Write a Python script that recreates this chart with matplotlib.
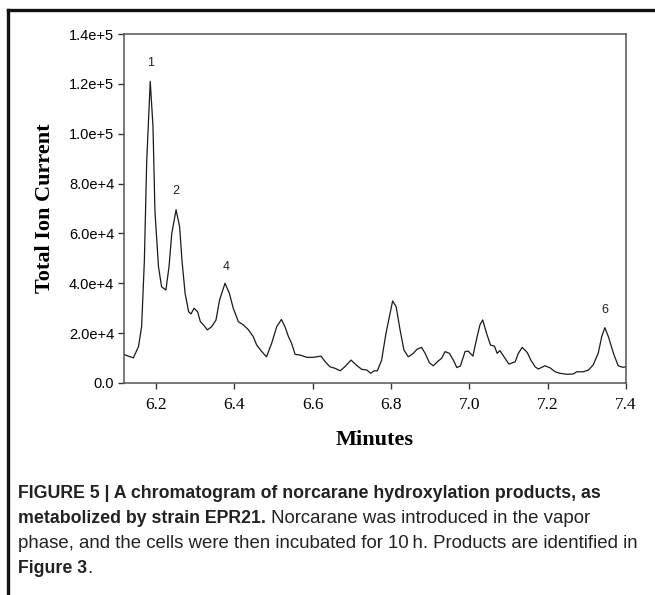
import matplotlib
matplotlib.use("Agg")
import matplotlib.pyplot as plt
from matplotlib.lines import Line2D

# ---- data ----
minutes = [6.118, 6.125, 6.142, 6.155, 6.163, 6.170, 6.176, 6.185, 6.192, 6.197,
           6.206, 6.214, 6.225, 6.233, 6.240, 6.251, 6.260, 6.266, 6.274, 6.283,
           6.289, 6.297, 6.306, 6.313, 6.321, 6.331, 6.342, 6.353, 6.362, 6.376,
           6.387, 6.397, 6.410, 6.423, 6.436, 6.448, 6.457, 6.470, 6.482, 6.495,
           6.508, 6.520, 6.529, 6.538, 6.546, 6.555, 6.568, 6.585, 6.602, 6.621,
           6.632, 6.644, 6.657, 6.670, 6.682, 6.698, 6.711, 6.725, 6.738, 6.748,
           6.757, 6.765, 6.776, 6.787, 6.804, 6.813, 6.823, 6.833, 6.844, 6.857,
           6.866, 6.878, 6.887, 6.898, 6.908, 6.918, 6.929, 6.938, 6.949, 6.959,
           6.968, 6.977, 6.989, 6.997, 7.009, 7.019, 7.027, 7.034, 7.044, 7.054,
           7.064, 7.071, 7.078, 7.091, 7.101, 7.117, 7.125, 7.135, 7.148, 7.157,
           7.168, 7.176, 7.193, 7.206, 7.219, 7.231, 7.249, 7.265, 7.274, 7.291,
           7.304, 7.316, 7.329, 7.338, 7.346, 7.355, 7.368, 7.380, 7.392, 7.400]
tic_k = [11.5, 11.0, 10.1, 14.6, 22.6, 49.0, 89.0, 121.0, 103.0, 69.0,
         46.7, 38.6, 37.3, 46.7, 60.0, 69.5, 62.7, 49.3, 36.0, 28.6,
         27.7, 30.0, 28.6, 24.6, 23.3, 21.3, 22.6, 25.3, 33.3, 40.0,
         36.0, 30.0, 24.6, 23.3, 21.3, 18.6, 15.2, 12.6, 10.5, 15.9,
         22.6, 25.5, 22.6, 18.6, 15.9, 11.5, 11.2, 10.3, 10.3, 10.8,
         8.5, 6.5, 5.9, 4.9, 6.5, 9.2, 7.2, 5.5, 5.2, 3.9,
         4.9, 4.9, 9.2, 19.9, 32.9, 30.6, 21.3, 13.2, 10.5, 11.9,
         13.5, 14.3, 11.9, 8.1, 6.9, 8.5, 9.9, 12.6, 11.9, 9.2,
         6.2, 6.8, 12.6, 12.8, 10.8, 18.0, 23.3, 25.3, 19.9, 15.2,
         14.8, 11.9, 13.0, 9.9, 7.6, 8.5, 11.9, 14.3, 12.2, 9.2,
         6.5, 5.6, 6.9, 6.1, 4.5, 3.9, 3.5, 3.6, 4.5, 4.5,
         5.2, 7.2, 11.9, 18.6, 22.2, 18.6, 11.9, 6.9, 6.3, 6.5]
total_ion_current = [v * 1000 for v in tic_k]

peak_labels = ["1", "2", "4", "6"]
peak_label_x = [6.186, 6.251, 6.378, 7.346]
peak_label_y = [126000, 74500, 44000, 27000]

x_ticks = [6.2, 6.4, 6.6, 6.8, 7.0, 7.2, 7.4]
x_tick_labels = ["6.2", "6.4", "6.6", "6.8", "7.0", "7.2", "7.4"]
y_ticks = [0, 20000, 40000, 60000, 80000, 100000, 120000, 140000]
y_tick_labels = ["0.0", "2.0e+4", "4.0e+4", "6.0e+4", "8.0e+4", "1.0e+5", "1.2e+5", "1.4e+5"]

caption_l1 = "FIGURE 5 | A chromatogram of norcarane hydroxylation products, as"
caption_l2_bold = "metabolized by strain EPR21."
caption_l2_reg = " Norcarane was introduced in the vapor"
caption_l3 = "phase, and the cells were then incubated for 10\u2009h. Products are identified in"
caption_l4_bold = "Figure 3"
caption_l4_reg = "."

# ---- figure ----
W, H = 655, 595
fig = plt.figure(figsize=(W / 100, H / 100), dpi=100)
fig.patch.set_facecolor("white")

# outer frame (top and left edges visible)
fig.add_artist(Line2D([8 / W, 1.0], [1 - 10 / H, 1 - 10 / H], color="#111111", lw=2.4,
                      transform=fig.transFigure))
fig.add_artist(Line2D([8 / W, 8 / W], [1 - 10 / H, 0.0], color="#111111", lw=2.4,
                      transform=fig.transFigure))

left, right, top, bottom = 124, 626, 34, 383
ax = fig.add_axes([left / W, 1 - bottom / H, (right - left) / W, (bottom - top) / H])
ax.plot(minutes, total_ion_current, color="#1a1a1a", lw=0.9)
ax.set_xlim(6.118, 7.4)
ax.set_ylim(0, 140000)

for s in ax.spines.values():
    s.set_color("#555555")
    s.set_linewidth(1.1)

serif = ["Liberation Serif", "DejaVu Serif"]
sans = ["Liberation Sans", "DejaVu Sans"]

ax.set_xticks(x_ticks)
ax.set_xticklabels(x_tick_labels, family=serif, fontsize=12.5)
ax.set_yticks(y_ticks)
ax.set_yticklabels(y_tick_labels, family=sans, fontsize=10.5)
ax.tick_params(axis="both", direction="out", length=4, width=1.0, color="#333333")
ax.tick_params(axis="x", pad=6)
ax.tick_params(axis="y", pad=3)

ax.set_xlabel("Minutes", family=serif, fontsize=16, fontweight="bold", labelpad=12)
ax.set_ylabel("Total Ion Current", family=serif, fontsize=16, fontweight="bold", labelpad=10)

for lab, lx, ly in zip(peak_labels, peak_label_x, peak_label_y):
    ax.text(lx, ly, lab, ha="center", va="bottom", family=sans, fontsize=9, color="#222222")

# ---- caption ----
cx = 18 / W
fsb = 12.8
fsr = 13.4
y1 = 1 - 498 / H
dy = 25 / H
col = "#222222"
t1 = fig.text(cx, y1, caption_l1, family=sans, fontsize=fsb, fontweight="bold", color=col, va="baseline")
t2 = fig.text(cx, y1 - dy, caption_l2_bold, family=sans, fontsize=fsb, fontweight="bold", color=col, va="baseline")
fig.canvas.draw()
r = fig.canvas.get_renderer()
bb = t2.get_window_extent(r)
fig.text(bb.x1 / W, y1 - dy, caption_l2_reg, family=sans, fontsize=fsr, color=col, va="baseline")
fig.text(cx, y1 - 2 * dy, caption_l3, family=sans, fontsize=fsr, color=col, va="baseline")
t4 = fig.text(cx, y1 - 3 * dy, caption_l4_bold, family=sans, fontsize=fsb, fontweight="bold", color=col, va="baseline")
fig.canvas.draw()
bb4 = t4.get_window_extent(r)
fig.text(bb4.x1 / W, y1 - 3 * dy, caption_l4_reg, family=sans, fontsize=fsr, color=col, va="baseline")

fig.savefig("out.png", dpi=100)
